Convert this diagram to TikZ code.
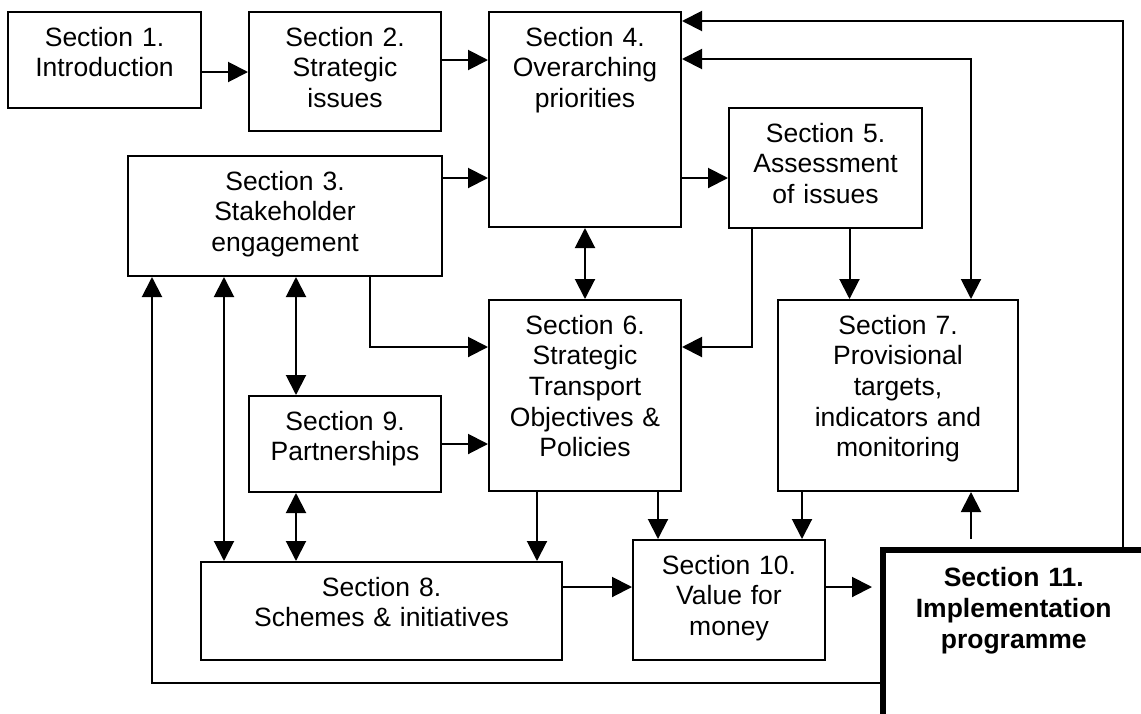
\documentclass[tikz,border=0pt]{standalone}
\usepackage{fontspec}
\setmainfont{Liberation Sans}
\usetikzlibrary{arrows.meta}
\tikzset{ > = {Triangle[length=20pt, width=20pt]} }

\begin{document}
\begin{tikzpicture}
  [
    x = 1pt, y = -1pt,
    every node/.style = { font = \fontsize{26.5}{30.7}\selectfont, inner sep = 0pt },
    sect/.style = { draw, rectangle, line width = 2pt, align = center, text height = 34pt, anchor = north west },
    link/.style = { line width = 2pt }
  ]
    \useasboundingbox (0,0) rectangle (1141,713);
    \clip (0,0) rectangle (1141,713);
    \node (s1) [sect, text width = 193pt, text depth = 62pt] at (7,11) {Section 1.\\Introduction};
    \node (s2) [sect, text width = 192pt, text depth = 85pt] at (248,11) {Section 2.\\Strategic\\issues};
    \node (s4) [sect, text width = 192pt, text depth = 181pt] at (488,11) {Section 4.\\Overarching\\priorities};
    \node (s3) [sect, text width = 314pt, text depth = 86pt] at (127,155) {Section 3.\\Stakeholder\\engagement};
    \node (s5) [sect, text width = 193pt, text depth = 86pt] at (728,107) {Section 5.\\Assessment\\of issues};
    \node (s6) [sect, text width = 192pt, text depth = 157pt] at (488,299) {Section 6.\\Strategic\\Transport\\Objectives \&\\Policies};
    \node (s7) [sect, text width = 240pt, text depth = 157pt] at (777,299) {Section 7.\\Provisional\\targets,\\indicators and\\monitoring};
    \node (s9) [sect, text width = 192pt, text depth = 62pt] at (248,395) {Section 9.\\Partnerships};
    \node (s8) [sect, text width = 361pt, text depth = 64pt] at (200,561) {Section 8.\\Schemes \& initiatives};
    \node (s10) [sect, text width = 192pt, text depth = 86pt] at (632,539) {Section 10.\\Value for\\money};
    \node (s11) [sect, line width = 5.5pt, text height = 37pt, text width = 262pt, text depth = 200pt, font = \fontsize{26.5}{30.7}\selectfont\bfseries] at (880,547) {Section 11.\\Implementation\\programme};
    % top row
    \draw [->, link] ([yshift=-12pt]s1.east) -- ([yshift=-12pt]s1.east -| s2.west);
    \draw [->, link] (s1.east -| s2.east) -- (s1.east -| s4.west);
    \draw [->, link] ([yshift=-23pt]s3.north east) -- ([yshift=-23pt]s3.north east -| s4.west);
    \draw [->, link] ([yshift=-23pt]s3.north east -| s4.east) -- ([yshift=-23pt]s3.north east -| s5.west);
    \draw [<->, link] (s4.south) -- (s6.north);
    \draw [->, link] ([xshift=-73pt]s3.south east) |- ([yshift=-48pt]s6.north west);
    \draw [->, link] ([xshift=24pt]s5.south west) |- ([yshift=-48pt]s6.north east);
    \draw [->, link] ([xshift=24pt]s5.south) -- ([xshift=24pt]s5.south |- s7.north);
    % back from section 11
    \draw [->, link] ([xshift=-25pt]s11.north east) |- ([yshift=-10pt]s4.north east);
    \draw [<->, link] ([yshift=-48pt]s4.north east) -| ([xshift=-48pt]s7.north east);
    \draw [->, link] ([yshift=-136pt]s11.north west) -| ([xshift=25pt]s3.south west);
    \draw [->, link, shorten <=8pt] ([xshift=-48pt]s7.south east |- s11.north) -- ([xshift=-48pt]s7.south east);
    % lower part
    \draw [<->, link] ([xshift=48pt]s9.north west |- s3.south) -- ([xshift=48pt]s9.north west);
    \draw [->, link] (s9.east) -- (s9.east -| s6.west);
    \draw [<->, link] ([xshift=48pt]s9.south west) -- ([xshift=48pt]s9.south west |- s8.north);
    \draw [<->, link] ([xshift=24pt]s8.north west |- s3.south) -- ([xshift=24pt]s8.north west);
    \draw [->, link] ([xshift=49pt]s6.south west) -- ([xshift=49pt]s6.south west |- s8.north);
    \draw [->, link] ([xshift=-24pt]s6.south east) -- ([xshift=-24pt]s6.south east |- s10.north);
    \draw [->, link] ([xshift=-24pt]s10.north east |- s7.south) -- ([xshift=-24pt]s10.north east);
    \draw [->, link] ([yshift=-48pt]s10.north west -| s8.east) -- ([yshift=-48pt]s10.north west);
    \draw [->, link, shorten >=8pt] ([yshift=-48pt]s10.north east) -- ([yshift=-48pt]s10.north east -| s11.west);
  \end{tikzpicture}
\end{document}
